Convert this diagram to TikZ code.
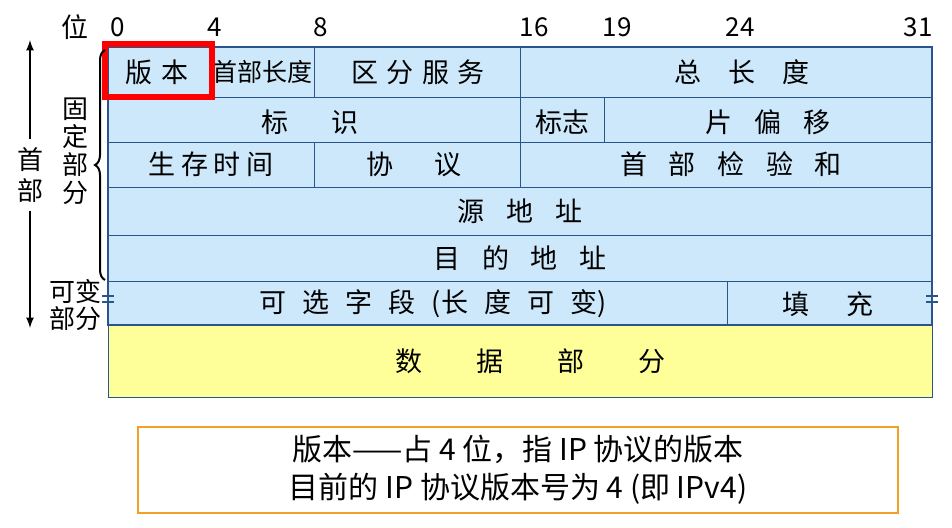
\documentclass[tikz,border=0pt]{standalone}
\usepackage{fontspec}
\setmainfont{Noto Sans CJK SC}
\usetikzlibrary{decorations.pathreplacing}
\definecolor{cellblue}{RGB}{205,232,250}
\definecolor{lineblue}{RGB}{40,85,140}
\definecolor{dyellow}{RGB}{255,255,153}
\definecolor{orng}{RGB}{242,160,40}
\newcommand{\gp}[1]{\hspace{#1em}}
\tikzset{lbl/.style={font=\fontsize{27}{30}\selectfont},
 num/.style={font=\fontsize{26}{28}\selectfont},
 cell/.style={draw=lineblue,line width=1pt}}
\begin{document}
\begin{tikzpicture}[x=1pt,y=-1pt]
\useasboundingbox (0,0) rectangle (952,527);
\fill[cellblue] (108,47) rectangle (932,325);
\fill[dyellow,draw=lineblue,line width=1pt] (108,325) rectangle (932,397);
\foreach \y in {97,142,187,235,281} \draw[cell] (108,\y) -- (932,\y);
\draw[cell] (314,47) -- (314,97);
\draw[cell] (520,47) -- (520,97);
\draw[cell] (520,97) -- (520,142);
\draw[cell] (604,97) -- (604,142);
\draw[cell] (314,142) -- (314,187);
\draw[cell] (520,142) -- (520,187);
\draw[cell] (727,281) -- (727,325);
\draw[lineblue,line width=2pt] (108,47) rectangle (932,325);
\foreach \x in {108,932}{\draw[lineblue,line width=2pt] (\x-6,296) -- (\x+6,296) (\x-6,302) -- (\x+6,302);}
\node[lbl] (wei) at (75,27) {位};
\foreach \b/\x in {0/118,4/215,8/321,16/534,19/617,24/740,31/918}
  \node[num] (b\b) at (\x,27) {\b};
\node[lbl] (ver) at (157,72) {版\gp{0.3}本};
\node[lbl,font=\fontsize{25}{28}\selectfont] (hl) at (262,72) {首部长度};
\node[lbl] (tos) at (418,72) {区\gp{0.3}分\gp{0.3}服\gp{0.3}务};
\node[lbl] (tl) at (742,72) {总\gp{1}长\gp{1}度};
\node[lbl] (id) at (310,122) {标\gp{1.6}识};
\node[lbl] (flag) at (562,122) {标志};
\node[lbl] (frag) at (768,122) {片\gp{0.8}偏\gp{0.8}移};
\node[lbl] (ttl) at (211,164) {生\gp{0.2}存\gp{0.2}时\gp{0.2}间};
\node[lbl] (proto) at (414,164) {协\gp{1.5}议};
\node[lbl] (csum) at (731,164) {首\gp{0.8}部\gp{0.8}检\gp{0.8}验\gp{0.8}和};
\node[lbl] (src) at (520,211) {源\gp{0.8}地\gp{0.8}址};
\node[lbl] (dst) at (520,258) {目\gp{0.8}的\gp{0.8}地\gp{0.8}址};
\node[lbl] (opt) at (433,304) {可\gp{0.6}选\gp{0.6}字\gp{0.6}段\gp{0.6}(长\gp{0.6}度\gp{0.6}可\gp{0.6}变)};
\node[lbl] (pad) at (828,304) {填\gp{1.4}充};
\node[lbl] (data) at (530,361) {数\gp{2}据\gp{2}部\gp{2}分};
\node[draw=red,line width=6pt,minimum width=107pt,minimum height=53pt,inner sep=0pt] (redbox) at (158,70.5) {};
\node[align=center,inner sep=0pt,font=\fontsize{26}{28}\selectfont] (fixed) at (75,151) {固\\定\\部\\分};
\node[align=center,inner sep=0pt,font=\fontsize{26}{31}\selectfont] (hdr) at (30,175) {首\\部};
\node[align=center,inner sep=0pt,font=\fontsize{26}{27}\selectfont] (var) at (75,305) {可变\\部分};
\coordinate (atop) at (30,40);
\coordinate (abot) at (30,328);
\draw[-latex,line width=2.5pt] (hdr.north) ++(0,-8) -- (atop);
\draw[-latex,line width=2.5pt] (hdr.south) ++(0,8) -- (abot);
\coordinate (bt) at (105,50);
\coordinate (bb) at (105,280);
\draw[decorate,decoration={brace,amplitude=10pt},line width=2pt] (bb) -- (bt);
\node[draw=orng,line width=2.5pt,minimum width=760pt,minimum height=86pt,align=center,
  font=\fontsize{30}{38}\selectfont] (note) at (518,470)
  {版本——占 4 位，指 IP 协议的版本\\目前的 IP 协议版本号为 4 (即 IPv4)};
\end{tikzpicture}
\end{document}
